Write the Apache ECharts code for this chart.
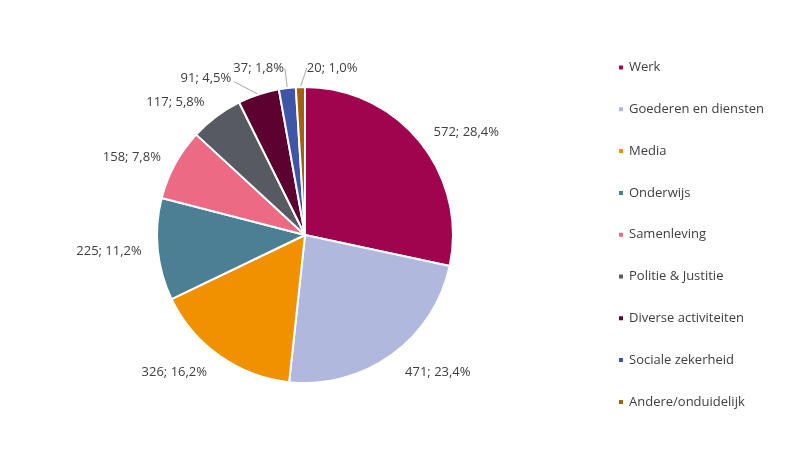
<!DOCTYPE html>
<html>
<head>
<meta charset="utf-8">
<script src="https://cdn.jsdelivr.net/npm/echarts@6/dist/echarts.min.js"></script>
<style>
  html, body { margin: 0; padding: 0; background: #fff; }
  #chart { width: 810px; height: 472px; }
</style>
</head>
<body>
<div id="chart"></div>
<script>
const categories = ["Werk", "Goederen en diensten", "Media", "Onderwijs", "Samenleving",
  "Politie & Justitie", "Diverse activiteiten", "Sociale zekerheid", "Andere/onduidelijk"];
const values = [572, 471, 326, 225, 158, 117, 91, 37, 20];
const colors = ["#A0044F", "#B0B9DD", "#F29100", "#4C7E94", "#EC6A84",
  "#575A61", "#5C0130", "#3F56A8", "#A0600E"];

// afstand label tot rand van de taart (per segment), lijn alleen bij de kleine segmenten
const labelLen = [16, 21, 20, 15, 15, 18, 17, 20, 19];
const labelLen2 = [0, 0, 0, 0, 0, 0, 21, 0, 0];
const withLine = [false, false, false, false, false, false, true, true, true];

const total = values.reduce((a, b) => a + b, 0);

const chart = echarts.init(document.getElementById("chart"));

chart.setOption({
  animation: false,
  textStyle: { fontFamily: "Open Sans, Noto Sans, sans-serif" },
  color: colors,
  legend: {
    orient: "vertical",
    left: 612,
    top: 56,
    itemWidth: 6,
    itemHeight: 6,
    itemGap: 28.8,
    icon: "rect",
    textStyle: { fontSize: 13, color: "#404040" },
    data: categories
  },
  series: [
    {
      type: "pie",
      center: [305, 235],
      radius: [0, 148],
      startAngle: 90,
      clockwise: true,
      avoidLabelOverlap: false,
      itemStyle: { borderColor: "#fff", borderWidth: 2 },
      label: {
        show: true,
        fontSize: 13,
        color: "#404040",
        distanceToLabelLine: 1,
        formatter: p => p.value + "; " + (p.value / total * 100).toFixed(1).replace(".", ",") + "%"
      },
      labelLine: {
        lineStyle: { color: "#a6a6a6", width: 1 }
      },
      labelLayout: params => {
        const pts = params.labelLinePoints;
        // kleinste segment: label rechts van de lijn
        if (params.dataIndex === 8) {
          const end = pts[pts.length - 1];
          return { x: end[0] + 7, y: end[1], align: "left", verticalAlign: "middle" };
        }
        // "Diverse activiteiten": rechte lijn naar de onderhoek van het label
        if (params.dataIndex === 6) {
          const r = params.labelRect;
          const tip = [r.x + r.width + 3, r.y + r.height - 3];
          return { labelLinePoints: [pts[0], pts[0], tip] };
        }
        return {};
      },
      data: categories.map((name, i) => ({
        name,
        value: values[i],
        labelLine: { show: withLine[i], length: labelLen[i], length2: labelLen2[i] }
      }))
    }
  ]
});
</script>
</body>
</html>
